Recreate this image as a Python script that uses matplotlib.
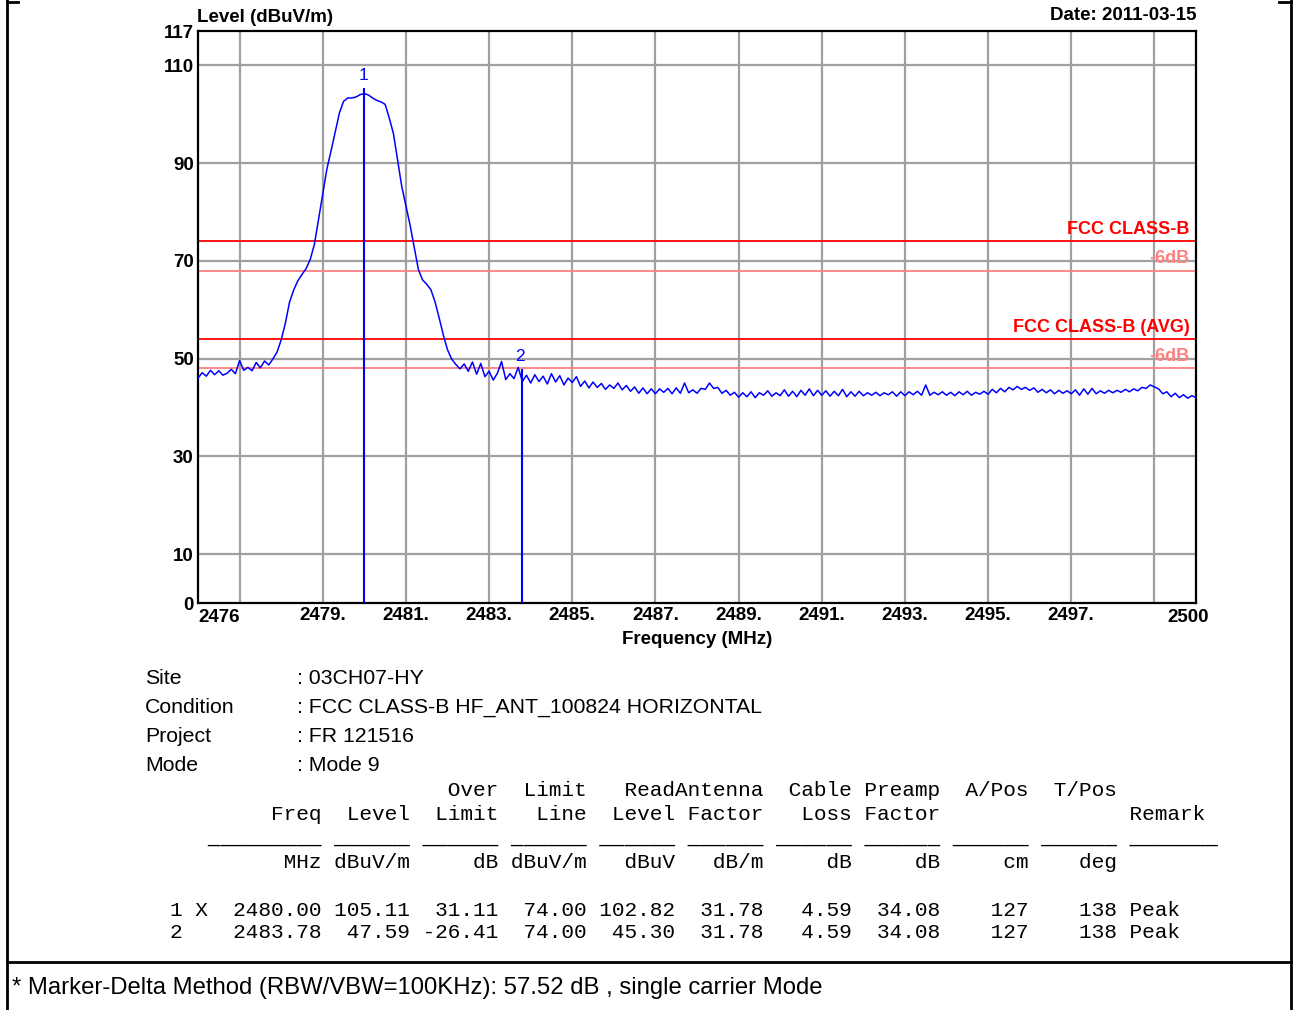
import matplotlib
matplotlib.use("Agg")
import matplotlib.pyplot as plt
from matplotlib.lines import Line2D
import numpy as np

W, H = 1295, 1010

# spectrum trace, 0.1 MHz steps from 2476.0 to 2500.0 MHz (dBuV/m)
freq_start, freq_stop = 2476.0, 2500.0
level = [
    46.0, 47.1, 46.4, 47.6, 46.7, 47.5, 46.6, 47.0, 47.8, 46.9,
    49.6, 47.6, 48.2, 47.5, 49.2, 48.1, 49.5, 48.7, 49.9, 51.3,
    53.8, 57.2, 61.5, 64.0, 65.9, 67.2, 68.4, 70.3, 73.4, 78.5,
    83.5, 88.8, 92.5, 96.4, 100.2, 102.6, 103.3, 103.3, 103.5, 104.0,
    104.2, 103.9, 103.3, 102.8, 102.5, 102.0, 99.2, 96.0, 90.6, 85.2,
    81.2, 77.3, 72.8, 68.2, 66.1, 65.2, 64.1, 61.6, 58.3, 54.8,
    51.8, 49.9, 48.8, 47.9, 48.9, 47.4, 49.3, 46.8, 49.0, 46.3,
    47.4, 45.6, 47.0, 49.4, 45.7, 46.9, 45.9, 48.2, 45.3, 46.6,
    45.0, 46.7, 45.3, 46.4, 44.8, 46.9, 45.2, 46.5, 44.6, 46.0,
    45.1, 46.3, 44.3, 45.4, 44.0, 45.2, 44.1, 44.9, 43.7, 44.6,
    43.9, 45.0, 43.6, 44.5, 43.3, 44.2, 42.9, 44.0, 42.8, 43.8,
    42.8, 43.8, 43.1, 43.9, 42.8, 44.0, 42.9, 45.0, 43.0, 43.6,
    42.9, 43.9, 43.7, 45.0, 43.9, 44.1, 42.9, 43.5, 42.5, 43.1,
    42.1, 43.0, 42.2, 43.2, 42.0, 43.0, 42.5, 43.4, 42.3, 43.0,
    42.4, 43.6, 42.3, 43.3, 42.2, 43.5, 42.5, 43.8, 42.4, 43.5,
    42.5, 43.4, 42.3, 43.3, 42.4, 43.7, 42.2, 43.2, 42.3, 43.3,
    42.4, 43.0, 42.5, 43.1, 42.4, 43.0, 42.6, 43.2, 42.3, 43.2,
    42.4, 43.2, 42.6, 43.3, 42.5, 44.6, 42.5, 43.1, 42.6, 43.2,
    42.5, 43.1, 42.4, 43.2, 42.6, 43.3, 42.5, 43.1, 42.7, 43.3,
    42.7, 43.7, 43.0, 43.9, 43.2, 44.1, 43.6, 44.3, 43.7, 44.1,
    43.5, 44.0, 43.1, 43.7, 43.0, 43.6, 42.8, 43.5, 42.9, 43.4,
    42.8, 43.6, 42.5, 43.8, 42.7, 43.9, 42.8, 43.4, 42.9, 43.5,
    43.0, 43.5, 43.1, 43.7, 43.2, 43.8, 43.4, 44.1, 43.9, 44.6,
    44.2, 43.8, 42.8, 43.2, 42.2, 42.9, 42.0, 42.6, 41.9, 42.4,
    42.0,
]
freq = np.linspace(freq_start, freq_stop, len(level))

marker_ids = ["1", "2"]
marker_freq = [2480.00, 2483.78]
marker_level = [105.11, 47.59]

limit_names = ["FCC CLASS-B", "FCC CLASS-B (AVG)"]
limit_values = [74, 54]
margin_db = 6

y_ticks = [0, 10, 30, 50, 70, 90, 110, 117]
y_grid = [10, 30, 50, 70, 90, 110]
x_grid = [2477, 2479, 2481, 2483, 2485, 2487, 2489, 2491, 2493, 2495, 2497, 2499]
x_labels = ["", "2479.", "2481.", "2483.", "2485.", "2487.", "2489.", "2491.",
            "2493.", "2495.", "2497.", ""]

info_keys = ["Site", "Condition", "Project", "Mode"]
info_vals = [": 03CH07-HY", ": FCC CLASS-B HF_ANT_100824 HORIZONTAL",
             ": FR 121516", ": Mode 9"]

table_lines = [
    "                      Over  Limit   ReadAntenna  Cable Preamp  A/Pos  T/Pos",
    "        Freq  Level  Limit   Line  Level Factor   Loss Factor               Remark",
    "   _________ ______ ______ ______ ______ ______ ______ ______ ______ ______ _______",
    "         MHz dBuV/m     dB dBuV/m   dBuV   dB/m     dB     dB     cm    deg",
    "1 X  2480.00 105.11  31.11  74.00 102.82  31.78   4.59  34.08    127    138 Peak",
    "2    2483.78  47.59 -26.41  74.00  45.30  31.78   4.59  34.08    127    138 Peak",
]
table_y = [791, 815, 838, 862, 910, 933]

footer = "* Marker-Delta Method (RBW/VBW=100KHz): 57.52 dB , single carrier Mode"

BLUE = "#0000ff"
RED = "#ff0000"
PINK = "#ff8080"
GRID = "#a0a0a0"
SANS = "Liberation Sans"


def fx(x):
    return x / W


def fy(y):
    return 1 - y / H


fig = plt.figure(figsize=(W / 100, H / 100), dpi=100)
ax = fig.add_axes([fx(198), fy(603), (1196 - 198) / W, (603 - 31) / H])
ax.set_xlim(freq_start, freq_stop)
ax.set_ylim(0, 117)

for g in y_grid:
    ax.axhline(g, color=GRID, lw=1.6, zorder=1)
for g in x_grid:
    ax.axvline(g, color=GRID, lw=1.6, zorder=1)

for v in limit_values:
    ax.axhline(v, color=RED, lw=1.3, zorder=2)
    ax.axhline(v - margin_db, color=PINK, lw=1.3, zorder=2)

ax.plot(freq, level, color=BLUE, lw=1.1, zorder=3)

for mid, mf, ml in zip(marker_ids, marker_freq, marker_level):
    ax.plot([mf, mf], [0, ml], color=BLUE, lw=1.5, zorder=4)
    ax.text(mf - 0.03, ml + 1.3, mid, color=BLUE, fontsize=12.5,
            family=SANS, ha="center", va="bottom")

for name, v in zip(limit_names, limit_values):
    ax.text(2499.85, v + 0.6, name, color=RED, fontsize=13, fontweight="bold",
            family=SANS, ha="right", va="bottom")
    ax.text(2499.85, v - margin_db + 2.5, "-6dB", color=PINK, fontsize=13,
            fontweight="bold", family=SANS, ha="right", va="center")

ax.set_yticks(y_ticks)
ax.set_yticklabels([str(t) for t in y_ticks], fontsize=13.5, fontweight="bold",
                   family=SANS)
ax.set_xticks(x_grid)
ax.set_xticklabels(x_labels, fontsize=13.5, fontweight="bold", family=SANS)
ax.tick_params(length=0, pad=3)
ax.tick_params(axis="x", pad=3)
ax.text(freq_start, -1.2, "2476", fontsize=13.5, fontweight="bold",
        family=SANS, ha="left", va="top")
ax.text(2499.8, -1.2, "2500", fontsize=13.5, fontweight="bold", family=SANS,
        ha="center", va="top")
for s in ax.spines.values():
    s.set_linewidth(1.6)

fig.text(fx(197), fy(17), "Level (dBuV/m)", fontsize=13.5, fontweight="bold",
         family=SANS, ha="left", va="center")
fig.text(fx(1197), fy(15), "Date: 2011-03-15", fontsize=13.5, fontweight="bold",
         family=SANS, ha="right", va="center")
fig.text(fx(697), fy(639), "Frequency (MHz)", fontsize=13.5, fontweight="bold",
         family=SANS, ha="center", va="center")

for i, (k, v) in enumerate(zip(info_keys, info_vals)):
    y = 679 + i * 28.7
    fig.text(fx(145), fy(y), k, fontsize=15.3, family=SANS, ha="left", va="center")
    fig.text(fx(297), fy(y), v, fontsize=15.3, family=SANS, ha="left", va="center")

for line, y in zip(table_lines, table_y):
    fig.text(fx(170), fy(y), line, fontsize=15.25, family="Liberation Mono",
             ha="left", va="center")

fig.text(fx(12), fy(988), footer, fontsize=17.2, family=SANS, ha="left", va="center")

# report frame
border = [
    ([7, 7], [0, H]),
    ([1291, 1291], [0, H]),
    ([7, 1291], [962, 962]),
    ([7, 18], [1.5, 1.5]),
    ([1279, 1291], [1.5, 1.5]),
]
for xs, ys in border:
    fig.add_artist(Line2D([fx(x) for x in xs], [fy(y) for y in ys],
                          color="black", lw=2, transform=fig.transFigure))

fig.savefig("out.png", dpi=100)
